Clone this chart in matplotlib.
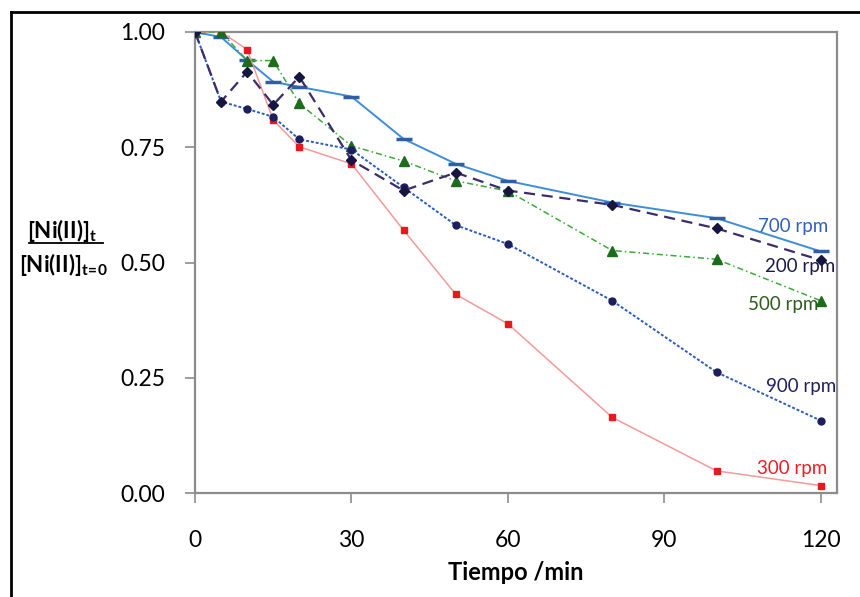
import matplotlib
matplotlib.use('Agg')
import matplotlib.pyplot as plt
from matplotlib.lines import Line2D

plt.rcParams['font.family'] = ['Lato', 'DejaVu Sans']
plt.rcParams['mathtext.fontset'] = 'custom'
plt.rcParams['mathtext.rm'] = 'Lato'
plt.rcParams['mathtext.bf'] = 'Lato:bold'

# tiempo (min)
tiempo = [0, 5, 10, 15, 20, 30, 40, 50, 60, 80, 100, 120]

# [Ni(II)]t / [Ni(II)]t=0 para cada velocidad de agitacion
rpm_700 = [1.00, 0.989, 0.939, 0.892, 0.881, 0.860, 0.768, 0.714, 0.677, 0.630, 0.596, 0.524]
rpm_200 = [1.00, 0.849, 0.914, 0.842, 0.903, 0.722, 0.656, 0.695, 0.656, 0.625, 0.574, 0.505]
rpm_500 = [1.00, 1.00, 0.938, 0.938, 0.845, 0.753, 0.720, 0.677, 0.655, 0.526, 0.507, 0.417]
rpm_900 = [1.00, 0.849, 0.833, 0.816, 0.767, 0.745, 0.663, 0.581, 0.540, 0.417, 0.262, 0.157]
rpm_300 = [1.00, 1.00, 0.962, 0.809, 0.751, 0.714, 0.570, 0.431, 0.367, 0.164, 0.048, 0.016]

etiquetas = ['700 rpm', '200 rpm', '500 rpm', '900 rpm', '300 rpm']

fig = plt.figure(figsize=(8.6, 5.97), dpi=100)
ax = fig.add_axes([195 / 860, 1 - 493 / 597, (837 - 195) / 860, (493 - 32) / 597])

ax.plot(tiempo, rpm_700, color='#3c8ddc', lw=1.4, ls='-',
        marker='_', ms=11, mew=2.5, mec='#2f5ea8', zorder=3)
ax.plot(tiempo, rpm_300, color='#f39a9a', lw=1.1, ls='-',
        marker='s', ms=5, mfc='#e8191e', mec='#e8191e', zorder=3)
ax.plot(tiempo, rpm_500, color='#3aaa3a', lw=1.1, ls=(0, (4, 2, 1, 2)),
        marker='^', ms=7, mfc='#1d6b1d', mec='#1d6b1d', zorder=3)
ax.plot(tiempo, rpm_900, color='#2a5cc0', lw=1.4, ls=(0, (1.5, 1)),
        marker='o', ms=5, mfc='#1b1f5e', mec='#1b1f5e', zorder=3)
ax.plot(tiempo, rpm_200, color='#3b2c6b', lw=1.6, ls=(0, (5, 3)),
        marker='D', ms=5, mfc='#161640', mec='#161640', zorder=3)

# etiquetas de las series
ax.text(121.4, 0.579, etiquetas[0], color='#2f5fbf', fontsize=13.5, ha='right', va='center')
ax.text(122.8, 0.491, etiquetas[1], color='#1b1b4b', fontsize=13.5, ha='right', va='center')
ax.text(119.6, 0.408, etiquetas[2], color='#2d5b1d', fontsize=13.5, ha='right', va='center')
ax.text(123.0, 0.231, etiquetas[3], color='#202060', fontsize=13.5, ha='right', va='center')
ax.text(121.2, 0.054, etiquetas[4], color='#ee1c24', fontsize=13.5, ha='right', va='center')

ax.set_xlim(0, 123.1)
ax.set_ylim(0, 1)
ax.set_xticks([0, 30, 60, 90, 120])
ax.set_yticks([0, 0.25, 0.5, 0.75, 1.0])
ax.set_yticklabels(['0.00', '0.25', '0.50', '0.75', '1.00'])
ax.tick_params(direction='out', length=7.5, width=1.2, color='#8c8c8c',
               labelsize=16.5, labelcolor='black', pad=14)
ax.tick_params(axis='x', pad=19)
for s in ax.spines.values():
    s.set_color('#8c8c8c')
    s.set_linewidth(1.6)

ax.set_xlabel('Tiempo /min', fontsize=17, fontweight='bold', labelpad=7)

# etiqueta del eje y como fraccion
fig.text(27 / 860, 1 - 231 / 597, r'$\mathbf{[Ni(II)]_{t}}$', fontsize=16, ha='left', va='center')
fig.text(19 / 860, 1 - 264 / 597, r'$\mathbf{[Ni(II)]_{t\!=\!0}}$', fontsize=16, ha='left', va='center')
fig.add_artist(Line2D([29 / 860, 103 / 860], [1 - 243 / 597, 1 - 243 / 597],
                      color='black', lw=1.3))

# marco exterior
fig.add_artist(Line2D([11 / 860, 11 / 860], [0, 1 - 12 / 597], color='black', lw=2))
fig.add_artist(Line2D([11 / 860, 1], [1 - 12 / 597, 1 - 12 / 597], color='black', lw=2))

fig.savefig('out.png', dpi=100)
